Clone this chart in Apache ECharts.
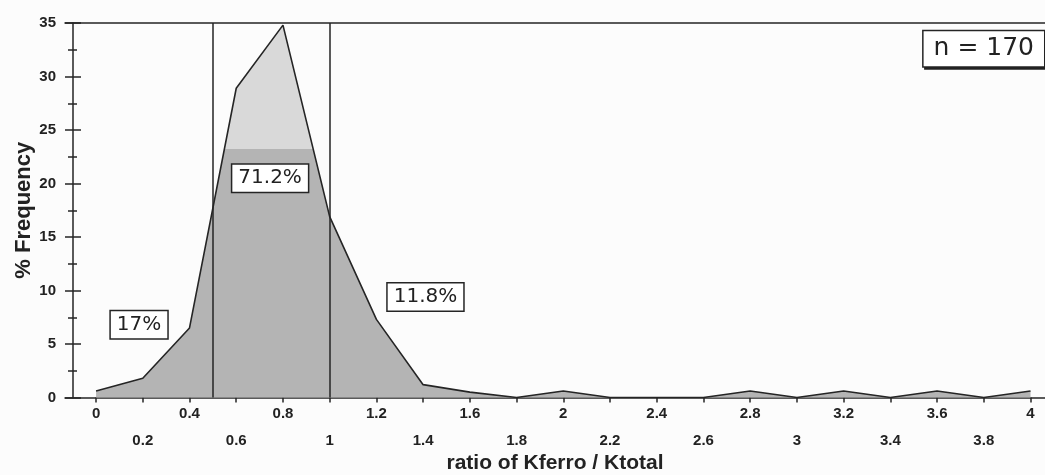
<!DOCTYPE html>
<html><head><meta charset="utf-8">
<script src="https://cdn.jsdelivr.net/npm/echarts@6/dist/echarts.min.js"></script>
<style>html,body{margin:0;padding:0;background:#fcfcfc}#c{width:1045px;height:475px}</style>
</head><body><div id="c"></div>
<script>
// ---- data ----
const ratioBins = [0, 0.2, 0.4, 0.6, 0.8, 1.0, 1.2, 1.4, 1.6, 1.8, 2.0, 2.2, 2.4, 2.6, 2.8, 3.0, 3.2, 3.4, 3.6, 3.8, 4.0];
const frequency = [0.6, 1.8, 6.5, 28.9, 34.8, 16.9, 7.3, 1.2, 0.5, 0, 0.6, 0, 0, 0, 0.6, 0, 0.6, 0, 0.6, 0, 0.6];
const cutoffs = [0.5, 1.0];
const xTickValues = [0, 0.2, 0.4, 0.6, 0.8, 1, 1.2, 1.4, 1.6, 1.8, 2, 2.2, 2.4, 2.6, 2.8, 3, 3.2, 3.4, 3.6, 3.8, 4];
const yTickInterval = 5;
const shareLabels = ['17%', '71.2%', '11.8%'];
const sampleLabel = 'n = 170';
const xTitle = 'ratio of Kferro / Ktotal';
const yTitle = '% Frequency';

// ---- chart ----
const ink = '#252525';
const darkFill = '#b4b4b4';
const lightFill = '#d9d9d9';
const maxF = Math.max(...frequency);
const split = (maxF - 23.2) / maxF;

const chart = echarts.init(document.getElementById('c'), null, {renderer: 'canvas'});

const boxLabel = (fs) => ({
  show: true, position: 'inside', color: '#222', fontFamily: 'DejaVu Sans', fontSize: fs,
  backgroundColor: '#fff', borderColor: ink, borderWidth: 1.5, padding: [4, 6, 3, 6]
});

const annCoords = [[0.184, 6.8], [0.745, 20.5], [1.41, 9.4]];
const markData = shareLabels.map((t, i) => ({
  coord: annCoords[i], value: t, symbol: 'rect', symbolSize: 1,
  itemStyle: {color: 'rgba(0,0,0,0)'},
  label: Object.assign(boxLabel(20), {formatter: t})
}));
markData.push({
  coord: [3.8, 32.6], value: sampleLabel, symbol: 'rect', symbolSize: 1,
  itemStyle: {color: 'rgba(0,0,0,0)'},
  label: Object.assign(boxLabel(25), {formatter: sampleLabel, padding: [6, 10, 4, 10],
    shadowColor: '#222', shadowOffsetX: 2, shadowOffsetY: 2, shadowBlur: 0})
});

const tickFont = {fontFamily: 'Liberation Sans', fontWeight: 'bold', fontSize: 15, color: '#222'};

chart.setOption({
  backgroundColor: '#fcfcfc',
  animation: false,
  grid: {left: 65, right: 0, top: 23, bottom: 77.5, containLabel: false, outerBoundsMode: 'none'},
  xAxis: [{
    type: 'value', min: -0.133, max: 4.062, position: 'bottom',
    name: xTitle, nameLocation: 'middle', nameGap: 55, nameMoveOverlap: false,
    nameTextStyle: {fontFamily: 'Liberation Sans', fontWeight: 'bold', fontSize: 21, color: '#222'},
    axisLine: {show: true, onZero: false, lineStyle: {color: ink, width: 1.5}},
    axisTick: {show: true, customValues: xTickValues, length: 5, lineStyle: {color: ink, width: 1.5}},
    axisLabel: Object.assign({}, tickFont, {
      customValues: xTickValues, margin: 3, lineHeight: 27, verticalAlign: 'top',
      formatter: (v) => {
        const s = String(+(+v).toFixed(1));
        return (Math.round(v / 0.2) % 2 === 1) ? '\n' + s : s;
      }
    }),
    splitLine: {show: false}
  }, {
    type: 'value', min: -0.133, max: 4.062, position: 'top',
    axisLine: {show: true, onZero: false, lineStyle: {color: ink, width: 1.5}},
    axisTick: {show: false}, axisLabel: {show: false}, splitLine: {show: false}
  }],
  yAxis: [{
    type: 'value', min: 0, max: 35, interval: yTickInterval, offset: -8,
    name: yTitle, nameLocation: 'middle', nameGap: 38, nameRotate: 90, nameMoveOverlap: false,
    nameTextStyle: {fontFamily: 'Liberation Sans', fontWeight: 'bold', fontSize: 22, color: '#222'},
    axisLine: {show: true, onZero: false, lineStyle: {color: ink, width: 1.5}},
    axisTick: {show: true, length: 8, lineStyle: {color: ink, width: 1.5}},
    minorTick: {show: true, splitNumber: 2, length: 5, lineStyle: {color: ink, width: 1.5}},
    axisLabel: Object.assign({}, tickFont, {margin: 17}),
    splitLine: {show: false}
  }, {
    type: 'value', min: 0, max: 35, interval: yTickInterval, offset: -8, position: 'left',
    axisLine: {show: false, onZero: false},
    axisTick: {show: true, inside: true, length: 8, lineStyle: {color: ink, width: 1.5}},
    minorTick: {show: true, splitNumber: 2, length: 4, lineStyle: {color: ink, width: 1.5}},
    axisLabel: {show: false}, splitLine: {show: false}
  }],
  series: [{
    type: 'line',
    data: ratioBins.map((x, i) => [x, frequency[i]]),
    symbol: 'none',
    lineStyle: {color: ink, width: 1.6},
    areaStyle: {
      opacity: 1,
      color: new echarts.graphic.LinearGradient(0, 0, 0, 1, [
        {offset: 0, color: lightFill}, {offset: split, color: lightFill},
        {offset: split, color: darkFill}, {offset: 1, color: darkFill}
      ])
    },
    markLine: {
      silent: true, symbol: ['none', 'none'], label: {show: false},
      lineStyle: {color: ink, width: 1.5, type: 'solid'},
      data: cutoffs.map(c => ({xAxis: c}))
    },
    markPoint: {silent: true, data: markData},
    z: 2
  }]
});
</script></body></html>
